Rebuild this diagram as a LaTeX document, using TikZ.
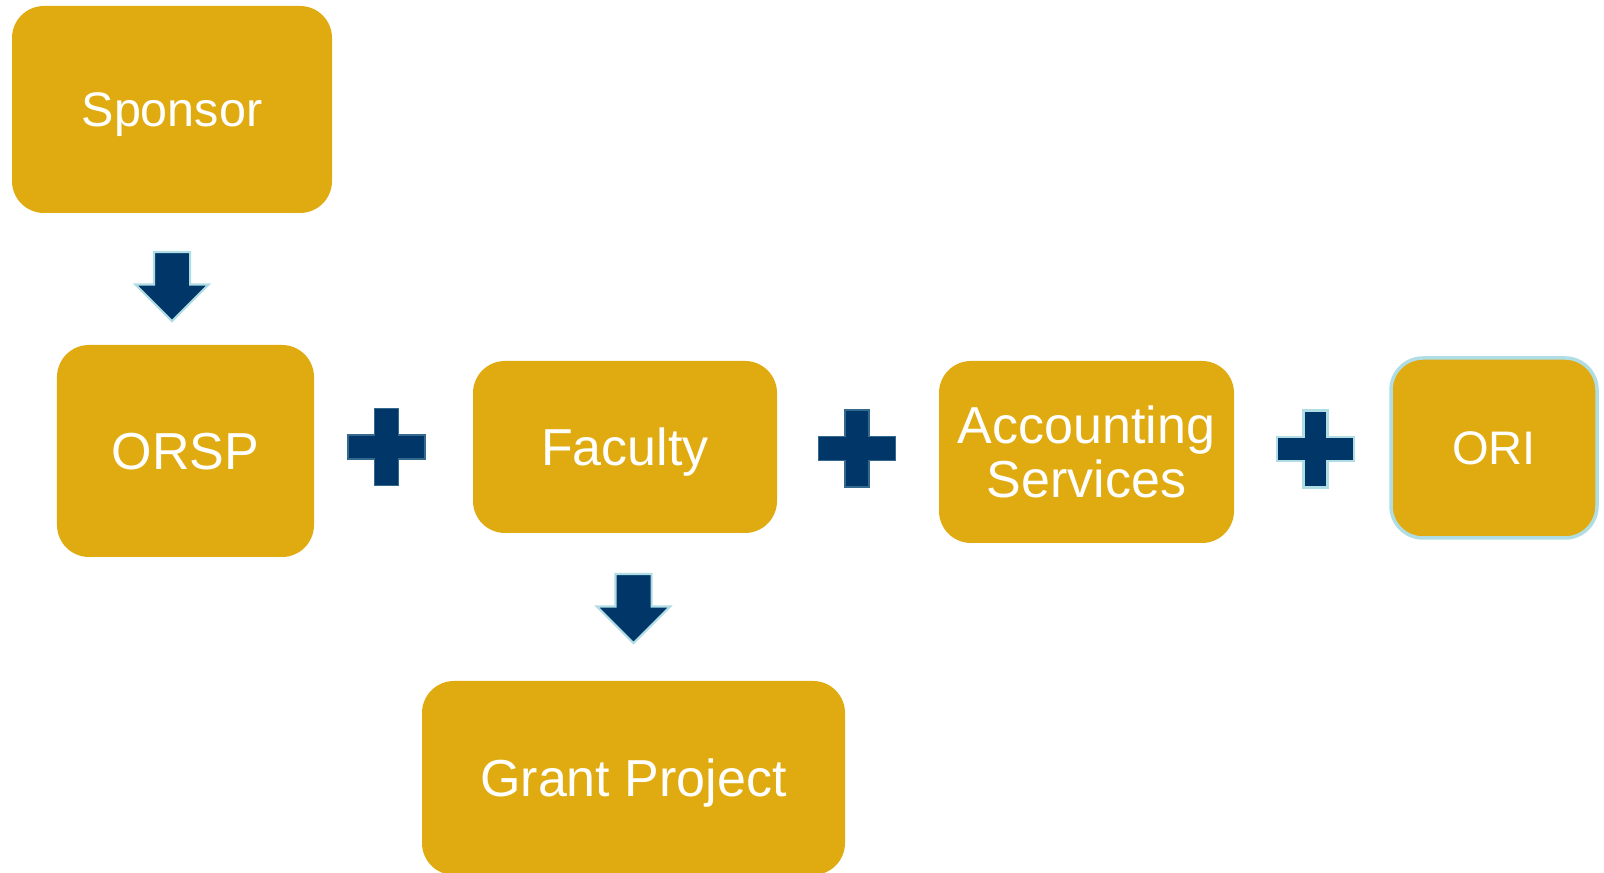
\documentclass[tikz,border=0pt]{standalone}
\usepackage{fontspec}
\setmainfont{Liberation Sans}
\usepackage{tikz}
\definecolor{gold1} {RGB} {224, 171, 16}
\definecolor{navy1} {RGB} {0, 55, 104}
\definecolor{pale1} {RGB} {176, 220, 228}
\usetikzlibrary{shapes.arrows}
\usetikzlibrary{calc,positioning}
\tikzstyle{flow}=[
  font=\fontsize{14.8}{15.6}\selectfont
]
\tikzstyle{flowbox}=[
  fill=gold1, text=white, rounded corners=0.32cm, inner sep=0pt, align=center
]
\tikzstyle{flowone}=[
  flowbox, text depth=0pt
]
\tikzstyle{flowdown}=[
  single arrow, fill=navy1, draw=pale1, line width=0.6pt, rotate=-90,
  minimum height=0.69cm, minimum width=0.71cm,
  single arrow head extend=0.185cm, inner xsep=0pt, inner ysep=0.17cm
]
\tikzstyle{flowplus}=[
  fill=navy1, draw=navy1!70!pale1, line width=0.4pt
]
\tikzset{
  plussign/.pic={
    \path[pic actions] (-0.12,0.385) -- (0.12,0.385) -- (0.12,0.12) -- (0.385,0.12)
      -- (0.385,-0.12) -- (0.12,-0.12) -- (0.12,-0.385) -- (-0.12,-0.385)
      -- (-0.12,-0.12) -- (-0.385,-0.12) -- (-0.385,0.12) -- (-0.12,0.12) -- cycle;
  }
}

\begin{document}
\begin{tikzpicture}[flow]
    \useasboundingbox (0,0) rectangle (16.04,-8.73);

    \node (sponsor) [flowone, minimum width=3.20cm, minimum height=2.07cm,
        font=\fontsize{13.8}{15}\selectfont] at (1.72,-1.095) {Sponsor};
    \node (orsp) [flowone, minimum width=2.57cm, minimum height=2.12cm] at (1.855,-4.51) {ORSP};
    \node (faculty) [flowone, minimum width=3.04cm, minimum height=1.72cm] at (6.25,-4.47) {Faculty};
    \node (accounting) [flowbox, minimum width=2.95cm, minimum height=1.82cm] at (10.865,-4.52)
        {Accounting\\Services};
    \node (ori) [flowone, draw=pale1, line width=1pt, minimum width=2.06cm, minimum height=1.80cm,
        font=\fontsize{13.4}{15}\selectfont] at (14.94,-4.48) {ORI};
    \node (grant) [flowone, minimum width=4.23cm, minimum height=1.94cm] at (6.335,-7.78) {Grant Project};

    \node (down1) [flowdown] at ($(sponsor) + (0, -1.68)$) {};
    \node (down2) [flowdown] at ($(grant) + (0, 1.785)$) {};

    \pic [flowplus] (plus1) at (3.865,-4.47) {plussign};
    \pic [flowplus] (plus2) at (8.57,-4.485) {plussign};
    \pic [flowplus, draw=pale1, line width=0.8pt] (plus3) at (13.155,-4.49) {plussign};
\end{tikzpicture}
\end{document}
